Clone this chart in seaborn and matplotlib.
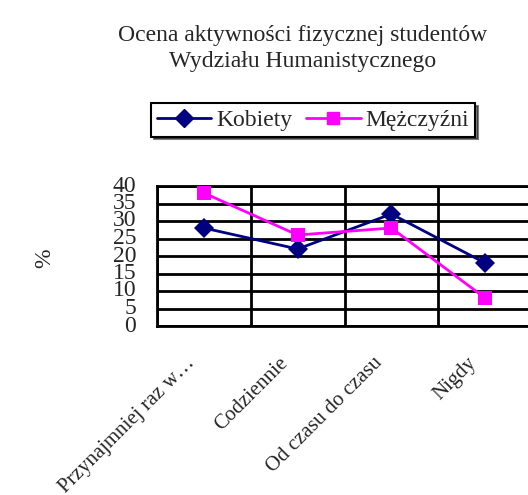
import numpy as np
import pandas as pd
import seaborn as sns
import matplotlib.pyplot as plt
import matplotlib.transforms as mtransforms

categories = ["Przynajmniej raz w…", "Codziennie", "Od czasu do czasu", "Nigdy"]
kobiety = [28, 22, 32, 18]
mezczyzni = [38, 26, 28, 8]
y_ticks = [0, 5, 10, 15, 20, 25, 30, 35, 40]

df = pd.DataFrame({
    "cat": list(range(len(categories))) * 2,
    "val": kobiety + mezczyzni,
    "who": ["Kobiety"] * 4 + ["Mężczyźni"] * 4,
})

sns.set_style("white")
plt.rcParams["font.family"] = ["Liberation Serif", "DejaVu Serif"]
plt.rcParams["font.size"] = 17

W, H = 528, 495
fig = plt.figure(figsize=(W / 100, H / 100), dpi=100)
# plot area runs past the right edge of the picture, as in the original
ax = fig.add_axes([157 / W, (H - 326) / H, (532 - 157) / W, 140 / H])

sns.lineplot(data=df, x="cat", y="val", hue="who", style="who",
             palette={"Kobiety": "#000080", "Mężczyźni": "#FF00FF"},
             markers={"Kobiety": "D", "Mężczyźni": "s"},
             dashes=False, markersize=10.5, linewidth=2,
             markeredgewidth=0, ax=ax, zorder=3, legend=False)

ax.set_xlim(-0.5, 3.5)
ax.set_ylim(0, 40)
ax.set_yticks(y_ticks)
ax.set_xticks(range(len(categories)))
ax.set_xticklabels([])
ax.set_xticks(np.arange(-0.5, 4.0, 1.0), minor=True)

# rotated category labels, end of text sits left and below each category
offset = mtransforms.ScaledTranslation(-12 / 100, -34 / 100, fig.dpi_scale_trans)
for i, cat in enumerate(categories):
    ax.text(i, 0, cat, rotation=45, ha="right", va="center", fontsize=15,
            rotation_mode="anchor",
            transform=ax.get_xaxis_transform() + offset, clip_on=False)

ax.tick_params(axis="x", which="major", length=0)
ax.tick_params(axis="x", which="minor", length=7, width=2, color="black", direction="out")
ax.tick_params(axis="y", length=7, width=2, color="black", direction="out", pad=8)
for lab in ax.get_yticklabels():
    lab.set_verticalalignment("center")

ax.grid(True, axis="y", color="black", linewidth=2)
ax.grid(True, axis="x", which="minor", color="black", linewidth=2)
ax.grid(False, axis="x", which="major")
for s in ax.spines.values():
    s.set_color("black")
    s.set_linewidth(2)
ax.set_xlabel("")
ax.set_ylabel("")

fig.text(45 / W, 1 - 258 / H, "%", rotation=90, ha="center", va="center")
fig.text(303 / W, 1 - 36 / H, "Ocena aktywności fizycznej studentów",
         ha="center", va="center")
fig.text(303 / W, 1 - 61 / H, "Wydziału Humanistycznego",
         ha="center", va="center")

handles = [
    plt.Line2D([], [], color="#000080", marker="D", markersize=9, linewidth=2),
    plt.Line2D([], [], color="#FF00FF", marker="s", markersize=9, linewidth=2),
]
leg = fig.legend(handles, ["Kobiety", "Mężczyźni"], loc="center",
                 bbox_to_anchor=(313 / W, 1 - 120 / H), ncol=2,
                 frameon=True, fancybox=False, handlelength=2.3,
                 handletextpad=0.2, columnspacing=0.6, borderpad=0.25,
                 shadow={"color": "black"})
leg.get_frame().set_edgecolor("black")
leg.get_frame().set_linewidth(1.5)

fig.savefig("out.png", dpi=100)
